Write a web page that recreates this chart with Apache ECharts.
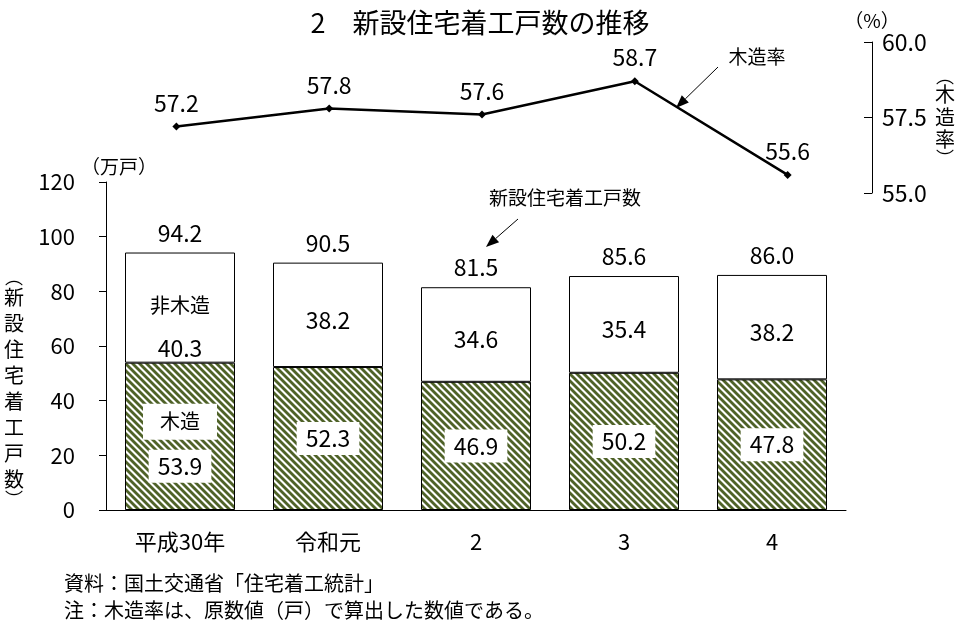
<!DOCTYPE html>
<html><head><meta charset="utf-8">
<script src="https://cdn.jsdelivr.net/npm/echarts@6/dist/echarts.min.js"></script>
<style>html,body{margin:0;padding:0;background:#fff}#c{width:960px;height:629px}</style>
</head><body><div id="c"></div>
<script>
// ---- data ----
const categories = ['平成30年', '令和元', '2', '3', '4'];
const woodValues = [53.9, 52.3, 46.9, 50.2, 47.8];        // 木造
const nonWoodValues = [40.3, 38.2, 34.6, 35.4, 38.2];     // 非木造
const totalValues = [94.2, 90.5, 81.5, 85.6, 86.0];       // 新設住宅着工戸数
const woodRateValues = [57.2, 57.8, 57.6, 58.7, 55.6];    // 木造率
const countAxis = { min: 0, max: 120, interval: 20 };
const rateAxis = { min: 55, max: 60, interval: 2.5 };

const NUM = "'Noto Sans CJK JP',sans-serif";
const JP = "'Noto Sans CJK JP',sans-serif";

function makeHatch() {
  const s = 7, c = document.createElement('canvas');
  c.width = s; c.height = s;
  const g = c.getContext('2d');
  g.fillStyle = '#fff'; g.fillRect(0, 0, s, s);
  g.strokeStyle = '#4F6228'; g.lineWidth = 2.8;
  for (let k = -1; k <= 1; k++) {
    g.beginPath(); g.moveTo(-2, k * s - 2); g.lineTo(s + 2, s + k * s + 2); g.stroke();
  }
  return c;
}

function arrow(x1, y1, x2, y2) {
  const dx = x2 - x1, dy = y2 - y1, L = Math.hypot(dx, dy), ux = dx / L, uy = dy / L;
  const hl = 13, hw = 5, bx = x2 - ux * hl, by = y2 - uy * hl;
  return [
    { type: 'line', shape: { x1: x1, y1: y1, x2: bx, y2: by }, style: { stroke: '#000', lineWidth: 1 } },
    { type: 'polygon', shape: { points: [[x2, y2], [bx - uy * hw, by + ux * hw], [bx + uy * hw, by - ux * hw]] }, style: { fill: '#000' } }
  ];
}

const chart = echarts.init(document.getElementById('c'));
const fmt1 = p => Number(p.value).toFixed(1);

const woodData = woodValues.map((v, i) => i === 0 ? {
  value: v,
  label: {
    formatter: '{a|木造}\n{g| }\n{b|' + v.toFixed(1) + '}',
    backgroundColor: 'transparent', padding: 0, offset: [0, 7],
    rich: {
      a: { fontSize: 20, fontFamily: JP, color: '#000', backgroundColor: '#fff', padding: [8, 17], align: 'center' },
      g: { fontSize: 1, lineHeight: 10 },
      b: { fontSize: 23, fontFamily: NUM, color: '#000', backgroundColor: '#fff', padding: [5, 9], align: 'center' }
    }
  }
} : v);

const nonWoodData = nonWoodValues.map((v, i) => i === 0 ? {
  value: v,
  label: {
    formatter: '{c|非木造}\n{d|' + v.toFixed(1) + '}',
    offset: [0, 19],
    rich: {
      c: { fontSize: 20, fontFamily: JP, color: '#000', lineHeight: 44, align: 'center' },
      d: { fontSize: 23, fontFamily: NUM, color: '#000', lineHeight: 42, align: 'center' }
    }
  }
} : v);

const option = {
  animation: false,
  backgroundColor: '#fff',
  textStyle: { fontFamily: JP, color: '#000' },
  title: {
    text: '2　新設住宅着工戸数の推移', left: 'center', top: 4,
    textStyle: { fontSize: 27, fontWeight: 'normal', color: '#000', fontFamily: JP }
  },
  grid: [
    { left: 106, top: 182, width: 740, height: 328 },
    { left: 100, top: 42, width: 764, height: 151 }
  ],
  xAxis: [
    {
      type: 'category', gridIndex: 0, data: categories,
      axisLine: { lineStyle: { color: '#000', width: 1 } },
      axisTick: { show: false },
      axisLabel: { fontSize: 22, color: '#000', margin: 21, fontFamily: JP }
    },
    { type: 'category', gridIndex: 1, data: categories, show: false }
  ],
  yAxis: [
    {
      type: 'value', gridIndex: 0, min: countAxis.min, max: countAxis.max, interval: countAxis.interval,
      axisLine: { show: true, lineStyle: { color: '#000', width: 1 } },
      axisTick: { show: true, length: 7, lineStyle: { color: '#000' } },
      splitLine: { show: false },
      axisLabel: { fontSize: 22, color: '#000', margin: 31, fontFamily: NUM },
      name: '（万戸）', nameLocation: 'end', nameGap: 6,
      nameTextStyle: { fontSize: 19, color: '#000', fontFamily: JP, padding: [0, 0, 0, 26] }
    },
    {
      type: 'value', gridIndex: 1, position: 'right', offset: 8,
      min: rateAxis.min, max: rateAxis.max, interval: rateAxis.interval,
      axisLine: { show: true, lineStyle: { color: '#000', width: 1 } },
      axisTick: { show: true, inside: true, length: 8, lineStyle: { color: '#000' } },
      splitLine: { show: false },
      axisLabel: { fontSize: 23, color: '#000', margin: 10, fontFamily: NUM, formatter: v => v.toFixed(1) },
      name: '（%）', nameLocation: 'end', nameGap: 10,
      nameTextStyle: { fontSize: 19, color: '#000', fontFamily: JP }
    }
  ],
  series: [
    {
      name: '木造', type: 'bar', stack: 'total', xAxisIndex: 0, yAxisIndex: 0, barWidth: 110, barGap: '-100%',
      itemStyle: { color: { image: makeHatch(), repeat: 'repeat' }, borderColor: '#000', borderWidth: 1 },
      label: {
        show: true, position: 'inside', formatter: fmt1, fontSize: 23, fontFamily: NUM, color: '#000',
        backgroundColor: '#fff', padding: [5, 9]
      },
      data: woodData
    },
    {
      name: '非木造', type: 'bar', stack: 'total', xAxisIndex: 0, yAxisIndex: 0, barWidth: 110, barGap: '-100%',
      itemStyle: { color: '#fff', borderColor: '#000', borderWidth: 1 },
      label: { show: true, position: 'inside', formatter: fmt1, fontSize: 23, fontFamily: NUM, color: '#000', offset: [0, 5] },
      data: nonWoodData
    },
    {
      name: '新設住宅着工戸数', type: 'bar', xAxisIndex: 0, yAxisIndex: 0, barWidth: 110, barGap: '-100%',
      silent: true, z: 1,
      itemStyle: { color: 'rgba(255,255,255,0)', borderWidth: 0 },
      label: { show: true, position: 'top', distance: 8, formatter: fmt1, fontSize: 23, fontFamily: NUM, color: '#000' },
      data: totalValues
    },
    {
      name: '木造率', type: 'line', xAxisIndex: 1, yAxisIndex: 1,
      symbol: 'diamond', symbolSize: 8,
      itemStyle: { color: '#000' }, lineStyle: { color: '#000', width: 2.5 },
      label: { show: true, position: 'top', distance: 8, formatter: fmt1, fontSize: 23, fontFamily: NUM, color: '#000' },
      data: woodRateValues
    }
  ],
  graphic: [
    ...arrow(718, 67, 676, 108),
    ...arrow(518, 219, 486, 247),
    { type: 'text', style: { text: '木造率', x: 757, y: 57, align: 'center', verticalAlign: 'middle', font: '19px ' + JP, fill: '#000' } },
    { type: 'text', style: { text: '新設住宅着工戸数', x: 565, y: 198, align: 'center', verticalAlign: 'middle', font: '19px ' + JP, fill: '#000' } },
    {
      type: 'text', style: {
        text: '{p|︵}\n{c|新}\n{c|設}\n{c|住}\n{c|宅}\n{c|着}\n{c|工}\n{c|戸}\n{c|数}\n{p|︶}',
        x: 14, y: 388, align: 'center', verticalAlign: 'middle', fill: '#000',
        rich: { p: { fontSize: 18, fontFamily: JP, lineHeight: 14, fill: '#000' }, c: { fontSize: 20, fontFamily: JP, lineHeight: 26, fill: '#000' } }
      }
    },
    {
      type: 'text', style: {
        text: '{p|︵}\n{c|木}\n{c|造}\n{c|率}\n{p|︶}',
        x: 945, y: 117, align: 'center', verticalAlign: 'middle', fill: '#000',
        rich: { p: { fontSize: 18, fontFamily: JP, lineHeight: 14, fill: '#000' }, c: { fontSize: 20, fontFamily: JP, lineHeight: 22.5, fill: '#000' } }
      }
    },
    { type: 'text', style: { text: '資料：国土交通省「住宅着工統計」', x: 64, y: 583, verticalAlign: 'middle', font: '20px ' + JP, fill: '#000' } },
    { type: 'text', style: { text: '注：木造率は、原数値（戸）で算出した数値である。', x: 64, y: 610, verticalAlign: 'middle', font: '20px ' + JP, fill: '#000' } }
  ]
};
chart.setOption(option);
</script>
</body></html>
